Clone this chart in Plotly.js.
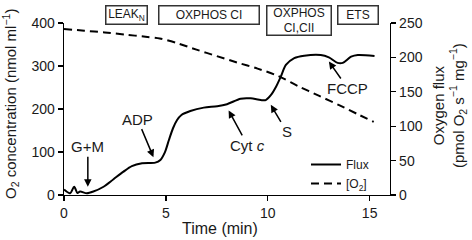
<!DOCTYPE html>
<html>
<head>
<meta charset="utf-8">
<script src="https://cdn.plot.ly/plotly-3.0.1.min.js"></script>
<style>html,body{margin:0;padding:0;background:#fff;}#chart{width:472px;height:240px;}</style>
</head>
<body>
<div id="chart"></div>
<script>
// Oxygen flux (right axis, pmol O2 s-1 mg-1)
const fluxTime = [0, 0.3, 0.5, 0.66, 0.79, 1.12, 1.44, 1.94, 2.43, 2.92, 3.33, 3.83, 4.48, 4.73, 4.95, 5.15, 5.35, 5.55, 5.75, 6.2, 6.86, 7.52, 8.0, 8.67, 9.16, 9.66, 9.9, 10.15, 10.4, 10.64, 10.89, 11.3, 11.79, 12.6, 13.0, 13.43, 13.68, 14.09, 14.42, 15.24];
const fluxValues = [8, 2.5, 12, 3, 5, 2.5, 5, 12, 23, 34, 42, 46, 47, 51, 62, 80, 97, 109, 116, 122, 127, 129, 132, 140, 140.5, 138, 138, 145, 157, 172, 189, 199, 202.5, 203.5, 200, 192, 192, 201, 203.5, 202];

// O2 concentration (left axis, nmol ml-1)
const o2Time = [0, 1, 2, 3, 4, 4.7, 5.5, 6.5, 7.5, 8.5, 9.5, 10.5, 11.5, 12.5, 13.5, 14.5, 15.2];
const o2Values = [386, 382, 378, 373, 368, 364, 354, 338, 323, 308, 294, 277, 253, 231, 209, 186, 170];

// Additions (arrow labels)
const addLabels = ['G+M', 'ADP', 'Cyt <i>c</i>', 'S', 'FCCP'];
const addTime = [1.17, 4.39, 8.08, 10.15, 13.0];
const addFlux = [12, 55, 123, 131, 194];
const addDx = [0, -16, 19, 16, 19];
const addDy = [-40, -38, 35, 27, 27];

// State boxes
const stateLabels = ['LEAK<sub>N</sub>', 'OXPHOS CI', 'OXPHOS<br>CI,CII', 'ETS'];

const FONT = 'Liberation Sans, Arial, sans-serif';
const INK = '#1a1a1a';

const W = 472, H = 240;
const L = 64, R = 82, T = 23, B = 45;
const PW = W - L - R, PH = H - T - B;
const px = x => (x - L) / PW;
const py = y => (H - B - y) / PH;

const traces = [
  {x: fluxTime, y: fluxValues, yaxis: 'y2', name: 'Flux', type: 'scatter', mode: 'lines',
   line: {color: '#000', width: 2, shape: 'spline', smoothing: 0.8}},
  {x: o2Time, y: o2Values, yaxis: 'y', name: '[O<sub>2</sub>]', type: 'scatter', mode: 'lines',
   line: {color: '#000', width: 2, dash: '8px,5px', shape: 'spline', smoothing: 0.8}}
];

const annotations = [];
addLabels.forEach((t, i) => {
  annotations.push({x: addTime[i], y: addFlux[i], xref: 'x', yref: 'y2', text: t,
    showarrow: true, arrowhead: 2, arrowsize: 1, arrowwidth: 1.5, arrowcolor: '#000',
    ax: addDx[i], ay: addDy[i], standoff: 0,
    font: {family: FONT, size: 15, color: INK}});
});

// boxes: [centerX px, width px, top px, height px]
const boxGeom = [[126, 43, 5, 20], [209, 102, 5, 20], [298.5, 66, 5, 31], [357.5, 42, 5, 20]];
stateLabels.forEach((t, i) => {
  const g = boxGeom[i];
  annotations.push({x: px(g[0]), y: py(g[2] + g[3] / 2), xref: 'paper', yref: 'paper',
    xanchor: 'center', yanchor: 'middle', text: t, showarrow: false,
    width: g[1] - 3, height: g[3] - 3, borderwidth: 1.5, borderpad: 0, bordercolor: '#333',
    bgcolor: '#fff', font: {family: FONT, size: 12, color: INK}});
});

// axis titles
annotations.push({x: px(220), y: py(228.5), xref: 'paper', yref: 'paper', xanchor: 'center', yanchor: 'middle',
  text: 'Time (min)', showarrow: false, font: {family: FONT, size: 16, color: INK}});
annotations.push({x: px(11), y: py(104), xref: 'paper', yref: 'paper', xanchor: 'center', yanchor: 'middle',
  textangle: -90, text: 'O<sub>2</sub> concentration (nmol ml<sup>\u22121</sup>)', showarrow: false,
  font: {family: FONT, size: 15, color: INK}});
annotations.push({x: px(449), y: py(106), xref: 'paper', yref: 'paper', xanchor: 'center', yanchor: 'middle',
  textangle: -90, text: 'Oxygen flux<br>(pmol O<sub>2</sub> s<sup>\u22121</sup> mg<sup>\u22121</sup>)', showarrow: false,
  font: {family: FONT, size: 15, color: INK}});

const axisCommon = {showline: true, linecolor: '#000', linewidth: 1.3, ticks: 'outside', ticklen: 5,
  tickwidth: 1.3, tickcolor: '#000', showgrid: false, zeroline: false,
  tickfont: {family: FONT, size: 14, color: INK}};

const layout = {
  width: W, height: H,
  margin: {l: L, r: R, t: T, b: B, pad: 0},
  paper_bgcolor: '#fff', plot_bgcolor: '#fff',
  showlegend: true,
  legend: {x: px(306), y: py(150), xanchor: 'left', yanchor: 'top', bgcolor: 'rgba(0,0,0,0)',
    font: {family: FONT, size: 12, color: INK}, tracegroupgap: 0, itemwidth: 30},
  xaxis: Object.assign({}, axisCommon, {range: [0, 16], tickvals: [0, 5, 10, 15]}),
  yaxis: Object.assign({}, axisCommon, {range: [0, 400], tickvals: [0, 100, 200, 300, 400]}),
  yaxis2: Object.assign({}, axisCommon, {range: [0, 250], tickvals: [0, 50, 100, 150, 200, 250],
    overlaying: 'y', side: 'right'}),
  annotations: annotations
};

Plotly.newPlot('chart', traces, layout, {displayModeBar: false, staticPlot: true});
</script>
</body>
</html>
